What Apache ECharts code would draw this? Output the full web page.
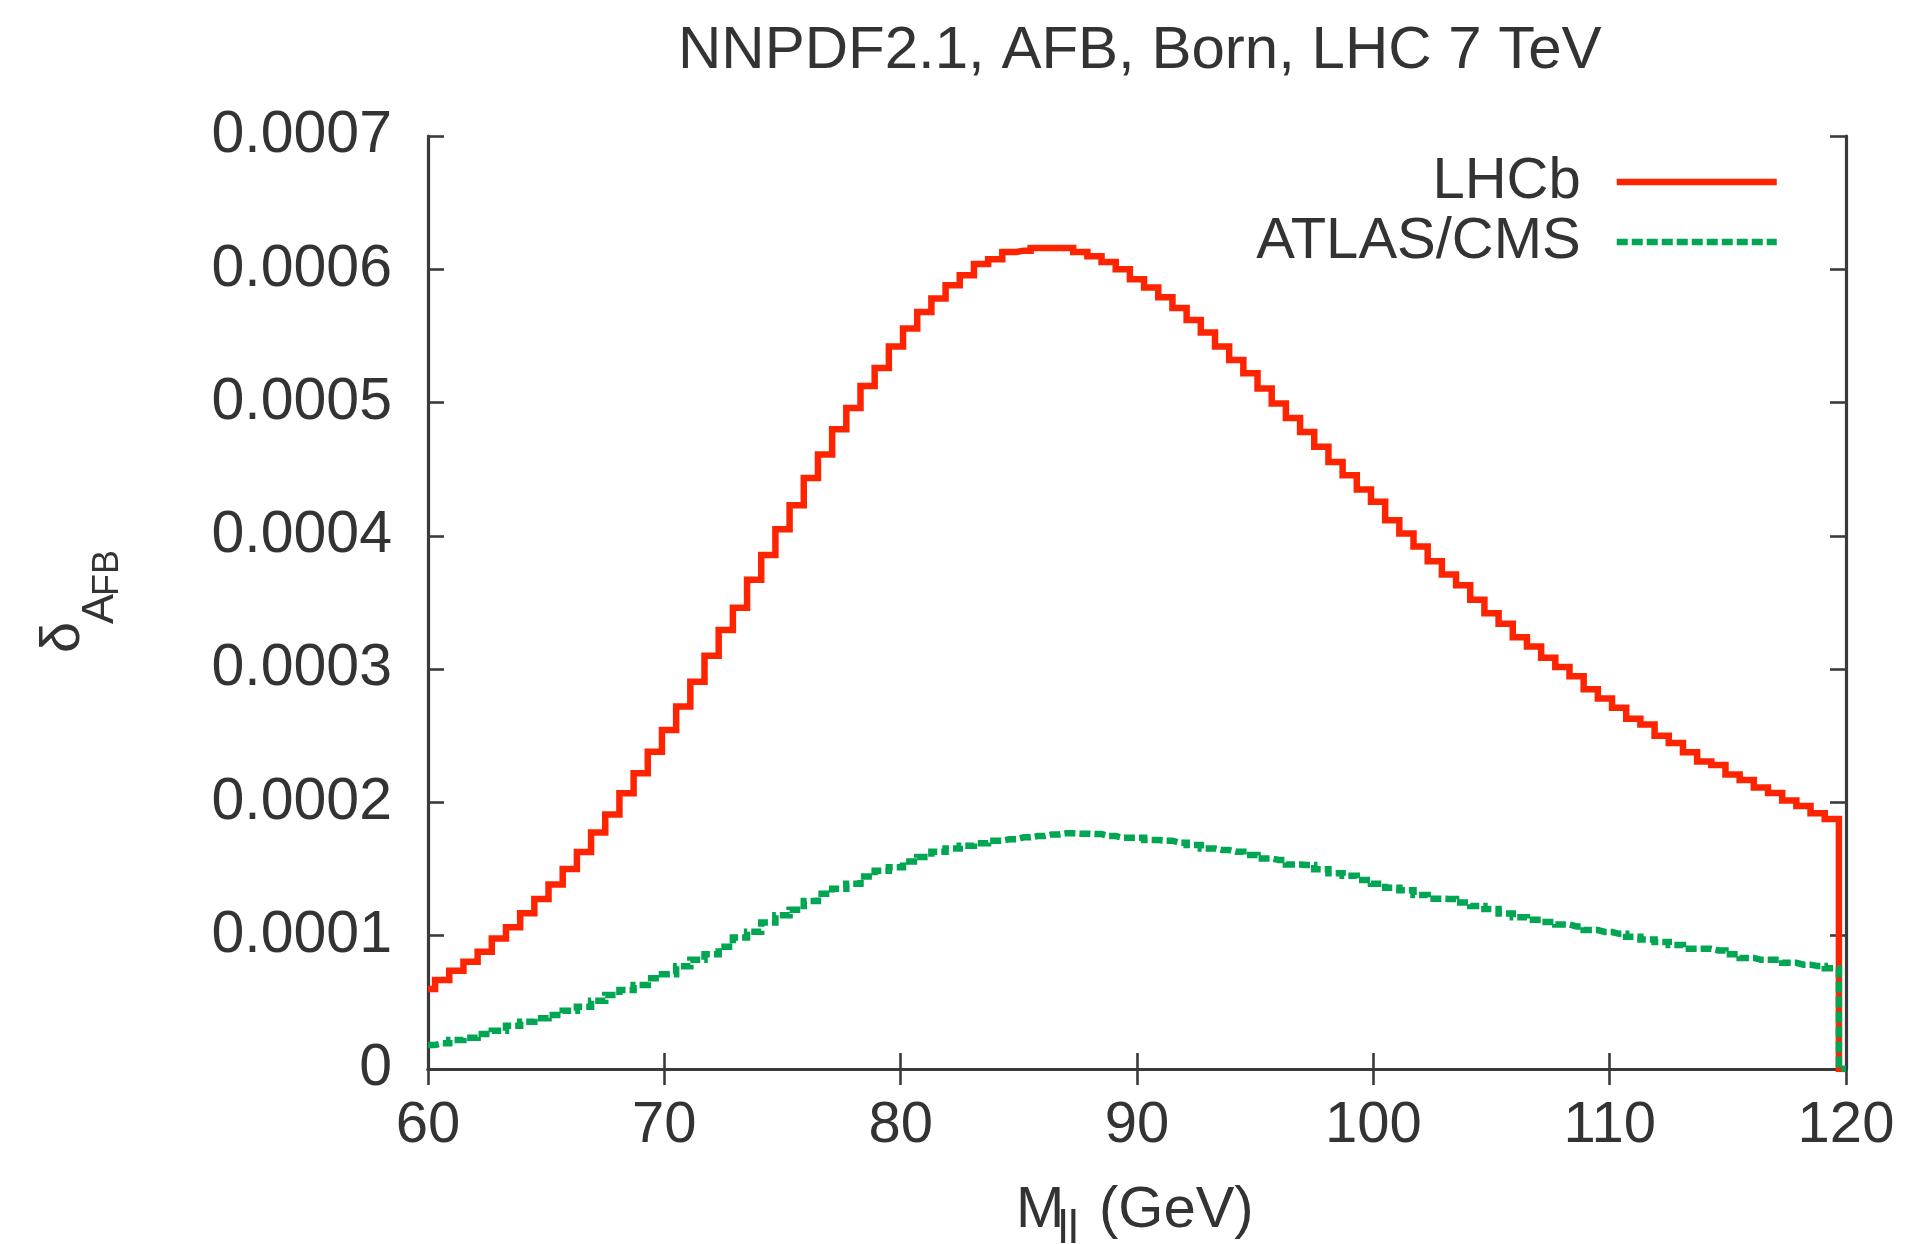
<!DOCTYPE html>
<html>
<head>
<meta charset="utf-8">
<script src="https://cdn.jsdelivr.net/npm/echarts@6/dist/echarts.min.js"></script>
<style>
html,body{margin:0;padding:0;background:#fff;}
#chart{width:1911px;height:1244px;}
</style>
</head>
<body>
<div id="chart"></div>
<script>
// Bin centres (GeV) of the histogram steps
const xs = [60,60.6,61.2,61.8,62.4,63,63.6,64.2,64.8,65.4,
66,66.6,67.2,67.8,68.4,69,69.6,70.2,70.8,71.4,
72,72.6,73.2,73.8,74.4,75,75.6,76.2,76.8,77.4,
78,78.6,79.2,79.8,80.4,81,81.6,82.2,82.8,83.4,
84,84.6,85.2,85.8,86.4,87,87.6,88.2,88.8,89.4,
90,90.6,91.2,91.8,92.4,93,93.6,94.2,94.8,95.4,
96,96.6,97.2,97.8,98.4,99,99.6,100.2,100.8,101.4,
102,102.6,103.2,103.8,104.4,105,105.6,106.2,106.8,107.4,
108,108.6,109.2,109.8,110.4,111,111.6,112.2,112.8,113.4,
114,114.6,115.2,115.8,116.4,117,117.6,118.2,118.8,119.4,
120];

// Values in units of 1e-4
const lhcb = [0.60,0.667,0.737,0.805,0.88,0.98,1.063,1.168,1.275,1.385,
1.50,1.628,1.775,1.91,2.068,2.218,2.38,2.543,2.719,2.905,
3.10,3.294,3.46,3.67,3.856,4.05,4.23,4.435,4.61,4.80,
4.96,5.125,5.26,5.42,5.555,5.68,5.78,5.88,5.955,6.04,
6.075,6.13,6.14,6.16,6.16,6.16,6.13,6.098,6.055,6.0,
5.925,5.863,5.79,5.71,5.62,5.525,5.42,5.32,5.22,5.105,
4.993,4.885,4.78,4.668,4.555,4.455,4.348,4.255,4.117,4.017,
3.92,3.81,3.71,3.63,3.52,3.42,3.34,3.24,3.17,3.085,
3.016,2.947,2.85,2.78,2.71,2.627,2.585,2.50,2.446,2.377,
2.307,2.28,2.21,2.168,2.112,2.07,2.015,1.973,1.918,1.876,
0];

const atlasCms = [0.18,0.193,0.2175,0.235,0.2625,0.2875,0.325,0.355,0.38,0.405,
0.4375,0.4675,0.5125,0.555,0.5925,0.63,0.68,0.71,0.77,0.82,
0.86,0.917,0.986,1.03,1.10,1.153,1.195,1.26,1.314,1.353,
1.39,1.445,1.487,1.514,1.556,1.59,1.63,1.655,1.675,1.693,
1.713,1.723,1.738,1.748,1.76,1.768,1.765,1.763,1.748,1.735,
1.735,1.718,1.713,1.698,1.68,1.655,1.643,1.63,1.605,1.58,
1.568,1.535,1.53,1.498,1.468,1.45,1.418,1.39,1.36,1.342,
1.306,1.278,1.275,1.25,1.222,1.20,1.167,1.139,1.12,1.103,
1.084,1.07,1.042,1.028,1.014,0.992,0.972,0.953,0.931,0.903,
0.903,0.889,0.861,0.833,0.819,0.819,0.797,0.783,0.772,0.755,
0];

const UNIT = 1e-4;
const yTickLabels = ['0','0.0001','0.0002','0.0003','0.0004','0.0005','0.0006','0.0007'];
const xTickLabels = ['60','70','80','90','100','110','120'];
const seriesNames = ['LHCb','ATLAS/CMS'];
const titleText = 'NNPDF2.1, AFB, Born, LHC 7 TeV';

const FONT = 'Liberation Sans, Arial, Helvetica, sans-serif';
const TXT = '#333333';
const AX = '#3a3a3a';
const RED = '#ff2400';
const GREEN = '#00a651';
const LW = 6.5;

const chart = echarts.init(document.getElementById('chart'), null, {renderer:'canvas'});

function toPairs(vals){ return xs.map((x,i)=>[x, vals[i]*UNIT]); }

const axisLineStyle = {show:true, lineStyle:{color:AX, width:3.2}};
const tickStyle = {show:true, inside:true, length:16, lineStyle:{color:AX, width:2.6}};

const option = {
  backgroundColor:'#ffffff',
  animation:false,
  title:{
    text:titleText, left:678, top:21, padding:0, textAlign:'left',
    textStyle:{fontSize:60, fontWeight:'normal', color:TXT, fontFamily:FONT}
  },
  grid:{left:428, right:65, top:136, bottom:175, containLabel:false},
  legend:{
    orient:'vertical', right:131, top:152, padding:0, align:'right',
    itemWidth:160, itemHeight:20, itemGap:0,
    data:seriesNames,
    itemStyle:{opacity:0, borderWidth:0},
    lineStyle:{width:LW},
    textStyle:{fontSize:58, color:TXT, fontFamily:FONT, lineHeight:60, padding:[0,31,0,0]}
  },
  xAxis:[
    {type:'value', min:60, max:120, interval:10, position:'bottom',
     axisLine:axisLineStyle, axisTick:tickStyle, splitLine:{show:false},
     axisLabel:{show:true, margin:28, fontSize:58, color:TXT, fontFamily:FONT,
       formatter:(v)=>xTickLabels[Math.round((v-60)/10)]}},
    {type:'value', min:60, max:120, interval:10, position:'top',
     axisLine:axisLineStyle, axisTick:tickStyle, splitLine:{show:false}, axisLabel:{show:false}}
  ],
  yAxis:[
    {type:'value', min:0, max:0.0007, interval:0.0001, position:'left',
     axisLine:axisLineStyle, axisTick:tickStyle, splitLine:{show:false},
     axisLabel:{show:true, margin:36, fontSize:59, color:TXT, fontFamily:FONT,
       formatter:(v)=>yTickLabels[Math.round(v/UNIT)]}},
    {type:'value', min:0, max:0.0007, interval:0.0001, position:'right',
     axisLine:axisLineStyle, axisTick:tickStyle, splitLine:{show:false}, axisLabel:{show:false}}
  ],
  series:[
    {name:seriesNames[0], type:'line', step:'middle', data:toPairs(lhcb),
     xAxisIndex:0, yAxisIndex:0, symbol:'none', showSymbol:false, clip:true,
     lineStyle:{color:RED, width:LW, cap:'butt', join:'miter'},
     itemStyle:{color:RED}},
    {name:seriesNames[1], type:'line', step:'middle', data:toPairs(atlasCms),
     xAxisIndex:0, yAxisIndex:0, symbol:'none', showSymbol:false, clip:true,
     lineStyle:{color:GREEN, width:LW, type:[11,4], cap:'butt', join:'miter'},
     itemStyle:{color:GREEN}}
  ],
  graphic:[
    {type:'text', x:64, y:653, rotation:Math.PI/2,
     style:{text:'δ', fontSize:56, fontFamily:FONT, fill:TXT, align:'left', verticalAlign:'middle'}},
    {type:'text', x:101, y:624, rotation:Math.PI/2,
     style:{text:'A', fontSize:45, fontFamily:FONT, fill:TXT, align:'left', verticalAlign:'middle'}},
    {type:'text', x:108, y:596, rotation:Math.PI/2,
     style:{text:'FB', fontSize:36, fontFamily:FONT, fill:TXT, align:'left', verticalAlign:'middle'}},
    {type:'text', x:1016, y:1211,
     style:{text:'M', fontSize:58, fontFamily:FONT, fill:TXT, align:'left', verticalAlign:'middle'}},
    {type:'text', x:1058, y:1230,
     style:{text:'ll', fontSize:46, fontFamily:FONT, fill:TXT, align:'left', verticalAlign:'middle'}},
    {type:'text', x:1099, y:1211,
     style:{text:'(GeV)', fontSize:58, fontFamily:FONT, fill:TXT, align:'left', verticalAlign:'middle'}}
  ]
};
chart.setOption(option);
</script>
</body>
</html>
